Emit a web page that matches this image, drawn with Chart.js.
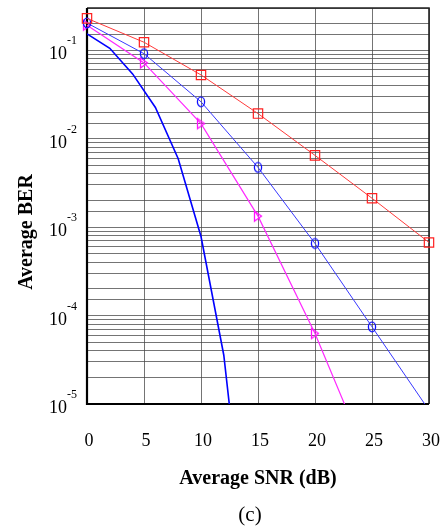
<!DOCTYPE html>
<html>
<head>
<meta charset="utf-8">
<script src="https://cdn.jsdelivr.net/npm/chart.js@4/dist/chart.umd.min.js"></script>
<style>
  html, body { margin: 0; padding: 0; background: #fff; }
  #wrap { width: 443px; height: 526px; }
</style>
</head>
<body>
<div id="wrap"><canvas id="berChart" width="443" height="526"></canvas></div>
<script>
// SNR points (dB) and BER for the three simulated schemes
const snr = [0, 5, 10, 15, 20, 25, 30];
const berSquare = [0.229, 0.123, 0.0525, 0.0192, 0.00647, 0.00212, 0.00067];
const berCircle = [0.203, 0.0914, 0.0261, 0.00473, 0.000653, 7.45e-5, 8.5e-6];
const snrTriangle = [0, 5, 10, 15, 20, 25];
const berTriangle = [0.192, 0.0718, 0.0148, 0.00133, 6.27e-5, 1.8e-6];
// bound curve, no markers
const snrCurve = [0, 2, 4, 6, 8, 10, 12, 14];
const berCurve = [0.153, 0.105, 0.054, 0.0225, 0.00593, 7.83e-4, 3.56e-5, 1.8e-7];
// decade labels on the BER axis
const decades = [1, 2, 3, 4, 5];

const SERIF = "'Liberation Serif', 'Times New Roman', serif";
Chart.defaults.font.family = SERIF;

function pts(xs, ys) {
    return xs.map((x, i) => ({ x: x, y: ys[i] }));
}

// hollow marker images
function ellipseMarker(color) {
    const c = document.createElement('canvas');
    c.width = 12; c.height = 14;
    const g = c.getContext('2d');
    g.strokeStyle = color;
    g.lineWidth = 1.3;
    g.beginPath();
    g.ellipse(6, 7, 3.6, 4.8, 0, 0, Math.PI * 2);
    g.stroke();
    return c;
}
function triangleMarker(color) {
    const c = document.createElement('canvas');
    c.width = 12; c.height = 14;
    const g = c.getContext('2d');
    g.strokeStyle = color;
    g.lineWidth = 1.3;
    g.beginPath();
    g.moveTo(2.5, 2);
    g.lineTo(9.5, 7);
    g.lineTo(2.5, 12);
    g.closePath();
    g.stroke();
    return c;
}

const clipBottom = { left: 10, right: 10, top: 10, bottom: 0 };

// frame, log tick labels with superscripts, y title and caption
const decorations = {
    id: 'decorations',
    beforeDatasetsDraw(chart) {
        const a = chart.chartArea, ctx = chart.ctx;
        ctx.save();
        ctx.strokeStyle = '#222';
        ctx.lineWidth = 1.6;
        ctx.beginPath();
        ctx.moveTo(a.left, a.top);
        ctx.lineTo(a.right, a.top);
        ctx.lineTo(a.right, a.bottom);
        ctx.stroke();
        ctx.strokeStyle = '#000';
        ctx.lineWidth = 2.2;
        ctx.beginPath();
        ctx.moveTo(a.left, a.top);
        ctx.lineTo(a.left, a.bottom);
        ctx.lineTo(a.right, a.bottom);
        ctx.stroke();
        ctx.restore();
    },
    afterDraw(chart) {
        const ctx = chart.ctx, y = chart.scales.y;
        ctx.save();
        ctx.fillStyle = '#000';
        ctx.textBaseline = 'middle';
        decades.forEach(k => {
            const py = y.getPixelForValue(Math.pow(10, -k));
            ctx.font = '18px ' + SERIF;
            ctx.textAlign = 'right';
            ctx.fillText('10', 67, py + 4.5);
            ctx.font = '12px ' + SERIF;
            ctx.textAlign = 'left';
            ctx.fillText('-' + k, 67, py - 9);
        });
        ctx.font = 'bold 20px ' + SERIF;
        ctx.textAlign = 'center';
        ctx.textBaseline = 'alphabetic';
        ctx.translate(32, 232);
        ctx.rotate(-Math.PI / 2);
        ctx.fillText('Average BER', 0, 0);
        ctx.restore();

        ctx.save();
        ctx.fillStyle = '#000';
        ctx.font = '21px ' + SERIF;
        ctx.textAlign = 'center';
        ctx.textBaseline = 'middle';
        ctx.fillText('(c)', 250, 515);
        ctx.restore();
    }
};

const gridColor = 'rgba(70,70,70,0.75)';

new Chart(document.getElementById('berChart').getContext('2d'), {
    type: 'line',
    data: {
        datasets: [
            {
                data: pts(snr, berSquare),
                borderColor: '#ff3a3a',
                borderWidth: 1,
                pointStyle: 'rect',
                pointRadius: 6.6,
                pointBorderColor: '#ff2020',
                pointBorderWidth: 1.2,
                pointBackgroundColor: 'rgba(0,0,0,0)',
                clip: clipBottom
            },
            {
                data: pts(snr, berCircle),
                borderColor: '#3838ff',
                borderWidth: 1,
                pointStyle: ellipseMarker('#1010ff'),
                clip: clipBottom
            },
            {
                data: pts(snrTriangle, berTriangle),
                borderColor: '#ff28ff',
                borderWidth: 1.2,
                pointStyle: triangleMarker('#ff10ff'),
                clip: clipBottom
            },
            {
                data: pts(snrCurve, berCurve),
                borderColor: '#0000ff',
                borderWidth: 1.6,
                pointRadius: 0,
                clip: 0
            }
        ]
    },
    options: {
        responsive: false,
        animation: false,
        layout: { padding: { top: 8, right: 14, left: 0, bottom: 0 } },
        plugins: {
            legend: { display: false },
            tooltip: { enabled: false }
        },
        scales: {
            x: {
                type: 'linear',
                min: 0,
                max: 30,
                border: { display: false },
                grid: {
                    color: gridColor,
                    lineWidth: 1,
                    drawTicks: true,
                    tickLength: 24,
                    tickColor: 'rgba(0,0,0,0)'
                },
                ticks: {
                    stepSize: 5,
                    padding: 2,
                    labelOffset: 2,
                    color: '#000',
                    font: { size: 18, family: SERIF }
                },
                title: {
                    display: true,
                    text: 'Average SNR (dB)',
                    color: '#000',
                    font: { size: 20, weight: 'bold', family: SERIF },
                    padding: { top: 0, bottom: 35 }
                },
                afterFit(scale) { scale.height = 122; }
            },
            y: {
                type: 'logarithmic',
                min: 1e-5,
                max: 0.3,
                border: { display: false },
                grid: { color: gridColor, lineWidth: 1, drawTicks: false },
                ticks: { display: false },
                afterFit(scale) { scale.width = 87; }
            }
        }
    },
    plugins: [decorations]
});
</script>
</body>
</html>
